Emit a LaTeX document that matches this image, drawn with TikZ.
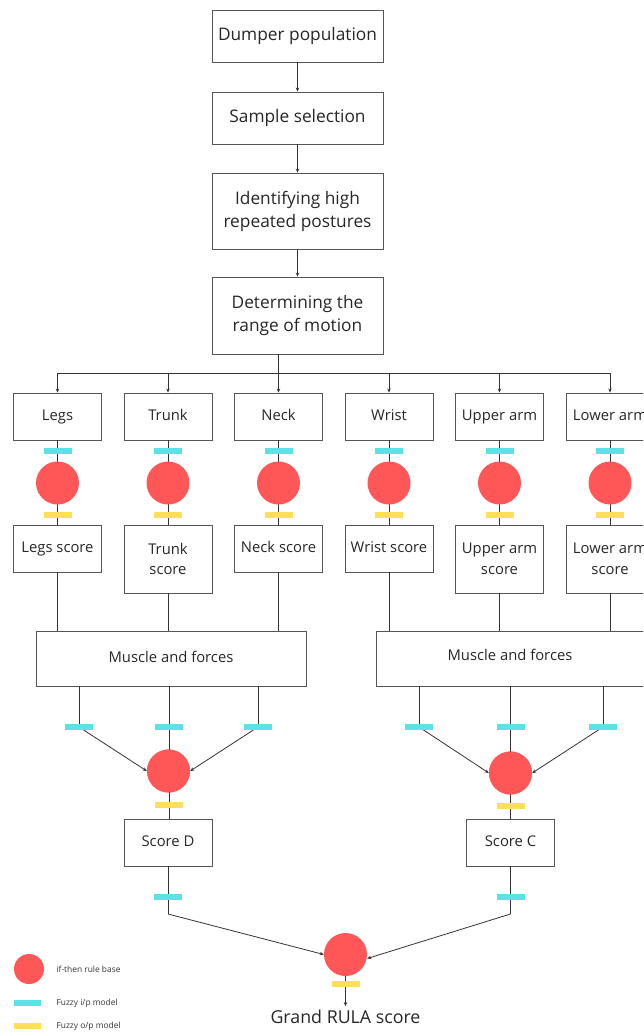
\documentclass[tikz,border=0pt]{standalone}
\usepackage{fontspec}
\setmainfont{Open Sans}
\usetikzlibrary{arrows.meta}
\definecolor{rulered}{HTML}{FF5757}
\definecolor{incyan}{HTML}{5CE1E6}
\definecolor{outyellow}{HTML}{FFDE59}
\definecolor{linegray}{HTML}{333333}
\definecolor{boxgray}{HTML}{555555}
\newcommand{\mystrut}{\vphantom{Agy}}
\tikzset{
  box/.style={draw=boxgray, line width=0.9pt, rectangle, inner sep=0pt, align=center, text=black!85},
  bigbox/.style={box, minimum width=171pt, font=\fontsize{17.3}{23}\selectfont},
  rowbox/.style={box, minimum width=88pt, minimum height=47pt, font=\fontsize{14.8}{20.5}\selectfont},
  musclebox/.style={box, minimum width=270pt, minimum height=55pt, font=\fontsize{14.8}{20}\selectfont},
  rulebase/.style={circle, fill=rulered, inner sep=0pt, minimum size=43pt},
  inbar/.style={fill=incyan, rectangle, inner sep=0pt, minimum width=28pt, minimum height=6pt},
  outbar/.style={fill=outyellow, rectangle, inner sep=0pt, minimum width=28pt, minimum height=6pt},
  conn/.style={draw=linegray, line width=0.8pt},
  arr/.style={conn, -{Stealth[length=4pt,width=3.5pt]}},
  legtext/.style={font=\fontsize{8.4}{10}\selectfont, anchor=west, text=black!80},
}
\begin{document}
\begin{tikzpicture}[x=1pt,y=-1pt]
\useasboundingbox (0,0) rectangle (643,1032);
\begin{scope}
\clip (0,0) rectangle (643,1032);
% top chain
\node[bigbox, minimum height=52pt] (dump) at (297.5,36) {\mystrut Dumper population};
\node[bigbox, minimum height=52pt] (samp) at (297.5,118) {\mystrut Sample selection};
\node[bigbox, minimum height=76pt] (iden) at (297.5,211) {Identifying high\\repeated postures};
\node[bigbox, minimum height=77pt] (dete) at (297.5,315.5) {Determining the\\range of motion};
\draw[arr] (dump) -- (samp);
\draw[arr] (samp) -- (iden);
\draw[arr] (iden) -- (dete);

% row of body-part boxes
\foreach \n/\x/\t in {legs/57.5/Legs, trunk/168/Trunk, neck/278.5/Neck, wrist/389/Wrist, upper/499.5/Upper arm, lower/610/Lower arm}{
  \node[rowbox] (\n) at (\x,416.5) {\mystrut\t};
  \node[inbar] (\n-in) at (\x,451) {};
  \node[outbar] (\n-out) at (\x,515) {};
}
\coordinate (bl) at (57.5,373);
\coordinate (br) at (610,373);
\coordinate (bm) at (278.5,373);
\draw[conn] (dete.south -| bm) -- (bm);
\draw[conn] (bl) -- (br);
\foreach \n in {legs,trunk,neck,wrist,upper,lower}{
  \draw[arr] (bl -| \n) -- (\n.north);
}
% score boxes
\node[rowbox] (legs-s) at (57.5,548.5) {\mystrut Legs score};
\node[rowbox, minimum height=68pt] (trunk-s) at (168,559) {Trunk\\score};
\node[rowbox] (neck-s) at (278.5,548.5) {\mystrut Neck score};
\node[rowbox] (wrist-s) at (389,548.5) {\mystrut Wrist score};
\node[rowbox, minimum height=68pt] (upper-s) at (499.5,559) {Upper arm\\score};
\node[rowbox, minimum height=68pt] (lower-s) at (610,559) {Lower arm\\score};
% verticals through circles
\foreach \n/\x in {legs/57.5, trunk/168, neck/278.5, wrist/389, upper/499.5, lower/610}{
  \draw[conn] (\n.south) -- (\n-s.north);
}
\foreach \n/\x in {legs/57.5, trunk/168, neck/278.5, wrist/389, upper/499.5, lower/610}{
  \node[rulebase] (\n-r) at (\x,483) {};
  \node[inbar] at (\n-in) {};
  \node[outbar] at (\n-out) {};
}

% muscle boxes
\node[musclebox] (muscL) at (171,658.5) {\mystrut Muscle and forces};
\node[musclebox, minimum width=272pt] (muscR) at (512,658.5) {};
\node[font=\fontsize{14.8}{20}\selectfont, text=black!85] (muscRt) at (510,656.5) {\mystrut Muscle and forces};
\draw[conn] (legs-s.south) -- (legs-s.south |- muscL.north);
\draw[conn] (trunk-s.south) -- (trunk-s.south |- muscL.north);
\draw[conn] (neck-s.south) -- (neck-s.south |- muscL.north);
\draw[conn] (wrist-s.south) -- (wrist-s.south |- muscR.north);
\draw[conn] (upper-s.south) -- (upper-s.south |- muscR.north);
\draw[conn] (lower-s.south) -- (lower-s.south |- muscR.north);

% left merge
\coordinate (l1) at (79,727);
\coordinate (l2) at (169,727);
\coordinate (l3) at (258,727);
\node[rulebase] (rD) at (168.5,771) {};
\node[rowbox] (scD) at (168,842.5) {\mystrut Score D};
\draw[conn] (l1 |- muscL.south) -- (l1);
\draw[conn] (l3 |- muscL.south) -- (l3);
\draw[arr] (l1) -- (rD.west);
\draw[arr] (l3) -- (rD.east);
\draw[conn] (l2 |- muscL.south) -- (scD.north -| l2);
\node[rulebase] at (rD) {};
\node[inbar] (l1b) at (l1) {};
\node[inbar] (l2b) at (l2) {};
\node[inbar] (l3b) at (l3) {};
\node[outbar] (rDo) at (168.5,805) {};

% right merge
\coordinate (r1) at (419,727);
\coordinate (r2) at (510.5,727);
\coordinate (r3) at (603,727);
\node[rulebase] (rC) at (510.5,773) {};
\node[rowbox] (scC) at (510.5,842.5) {\mystrut Score C};
\draw[conn] (r1 |- muscR.south) -- (r1);
\draw[conn] (r3 |- muscR.south) -- (r3);
\draw[arr] (r1) -- (rC.west);
\draw[arr] (r3) -- (rC.east);
\draw[conn] (r2 |- muscR.south) -- (scC.north -| r2);
\node[rulebase] at (rC) {};
\node[inbar] (r1b) at (r1) {};
\node[inbar] (r2b) at (r2) {};
\node[inbar] (r3b) at (r3) {};
\node[outbar] (rCo) at (510.5,806) {};

% final merge
\node[rulebase] (rG) at (345.5,954.5) {};
\coordinate (dk) at (168,914);
\coordinate (ck) at (510.5,914);
\draw[conn] (scD.south) -- (dk);
\draw[conn] (scC.south) -- (ck);
\draw[arr] (dk) -- (rG.west);
\draw[arr] (ck) -- ([yshift=-4pt]rG.east);
\node[inbar] (dB) at (168,897) {};
\node[inbar] (cB) at (510.5,897) {};
\node[font=\fontsize{17.8}{20}\selectfont, text=black!85] (grand) at (345.5,1016.5) {Grand RULA score};
\draw[arr] (rG.south) -- (grand.north);
\node[outbar] (gO) at (345.5,984) {};

% legend
\node[rulebase, minimum size=30pt] (legR) at (29,969) {};
\node[legtext] at (53,969) {if-then rule base};
\node[inbar, minimum width=27pt] (legI) at (27.5,1003) {};
\node[legtext] at (53,1003) {Fuzzy i/p model};
\node[outbar, minimum width=27pt] (legO) at (27.5,1026) {};
\node[legtext] at (53,1026) {Fuzzy o/p model};
\end{scope}
\end{tikzpicture}
\end{document}
